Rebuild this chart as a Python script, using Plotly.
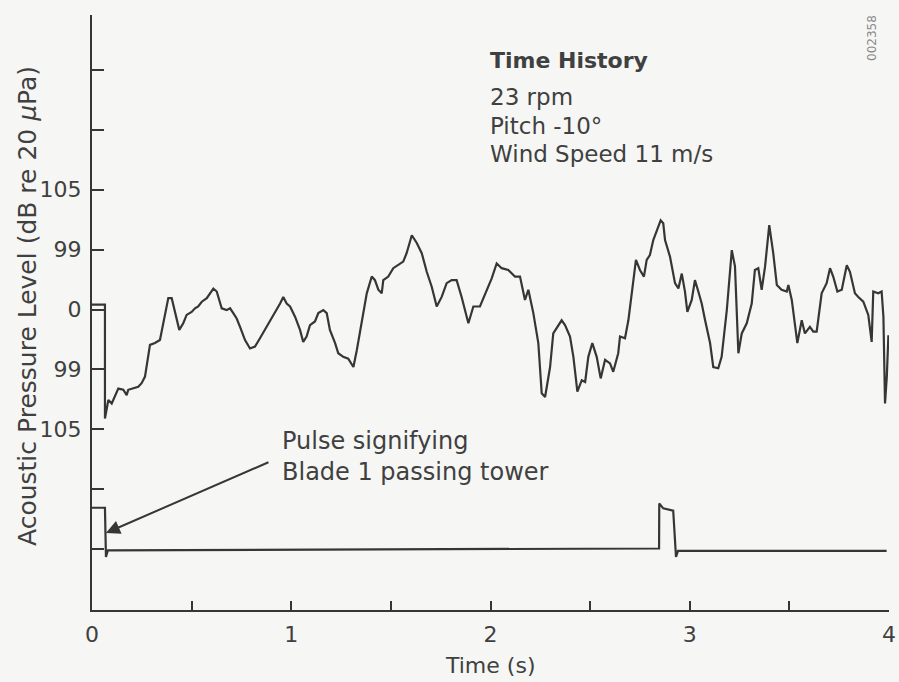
import plotly.graph_objects as go

# ---------------- data ----------------
# main acoustic pressure trace: time (s) and level (in y-tick units; 0 = centre line)
t_main = [0.000, 0.065, 0.065, 0.082, 0.099, 0.132, 0.157, 0.174, 0.182, 0.207, 0.232, 0.249, 0.266,
          0.291, 0.316, 0.341, 0.350, 0.366, 0.383, 0.400, 0.417, 0.438, 0.458, 0.475, 0.500, 0.517,
          0.533, 0.551, 0.576, 0.592, 0.609, 0.626, 0.651, 0.676, 0.693, 0.709, 0.726, 0.743, 0.768,
          0.793, 0.818, 0.843, 0.868, 0.893, 0.918, 0.944, 0.960, 0.977, 0.994, 1.019, 1.044, 1.060,
          1.077, 1.094, 1.119, 1.136, 1.161, 1.178, 1.194, 1.220, 1.236, 1.261, 1.286, 1.312, 1.329,
          1.354, 1.379, 1.404, 1.420, 1.437, 1.454, 1.462, 1.487, 1.512, 1.537, 1.562, 1.579, 1.605,
          1.630, 1.655, 1.680, 1.705, 1.730, 1.755, 1.780, 1.805, 1.830, 1.855, 1.889, 1.914, 1.947,
          1.972, 2.006, 2.031, 2.056, 2.089, 2.123, 2.148, 2.173, 2.190, 2.215, 2.240, 2.257, 2.274,
          2.299, 2.315, 2.341, 2.357, 2.374, 2.399, 2.416, 2.436, 2.458, 2.475, 2.491, 2.511, 2.533,
          2.553, 2.575, 2.600, 2.616, 2.641, 2.650, 2.675, 2.692, 2.709, 2.730, 2.750, 2.770, 2.784,
          2.800, 2.817, 2.834, 2.854, 2.867, 2.876, 2.901, 2.926, 2.943, 2.960, 2.976, 2.988, 3.010,
          3.026, 3.043, 3.060, 3.077, 3.102, 3.118, 3.143, 3.160, 3.186, 3.211, 3.227, 3.244, 3.261,
          3.286, 3.311, 3.327, 3.344, 3.361, 3.378, 3.399, 3.419, 3.437, 3.461, 3.487, 3.495, 3.512,
          3.528, 3.540, 3.562, 3.578, 3.603, 3.620, 3.637, 3.662, 3.687, 3.704, 3.720, 3.741, 3.763,
          3.788, 3.804, 3.829, 3.846, 3.871, 3.896, 3.913, 3.921, 3.946, 3.963, 3.972, 3.980, 3.989,
          3.997]
level_main = [0.08, 0.08, -1.82, -1.51, -1.57, -1.32, -1.34, -1.43, -1.34, -1.32, -1.29, -1.23, -1.12,
              -0.59, -0.56, -0.51, -0.37, -0.12, 0.19, 0.19, -0.06, -0.34, -0.23, -0.09, -0.04, 0.02,
              0.05, 0.13, 0.19, 0.27, 0.35, 0.30, 0.02, -0.01, 0.02, -0.06, -0.15, -0.29, -0.51,
              -0.65, -0.62, -0.48, -0.34, -0.20, -0.06, 0.10, 0.21, 0.10, 0.05, -0.12, -0.34, -0.54,
              -0.45, -0.26, -0.20, -0.06, -0.01, -0.06, -0.34, -0.56, -0.73, -0.79, -0.82, -0.96, -0.68,
              -0.23, 0.27, 0.55, 0.49, 0.33, 0.27, 0.49, 0.55, 0.69, 0.74, 0.80, 0.94, 1.24,
              1.11, 0.94, 0.63, 0.38, 0.05, 0.21, 0.44, 0.49, 0.49, 0.21, -0.23, 0.05, 0.05,
              0.24, 0.52, 0.77, 0.69, 0.66, 0.55, 0.55, 0.16, 0.33, -0.06, -0.56, -1.40, -1.46,
              -0.96, -0.40, -0.26, -0.18, -0.26, -0.45, -0.79, -1.37, -1.18, -1.21, -0.79, -0.56, -0.79,
              -1.15, -0.84, -0.90, -1.04, -0.73, -0.45, -0.48, -0.18, 0.27, 0.83, 0.66, 0.55, 0.83,
              0.91, 1.16, 1.30, 1.49, 1.44, 1.16, 0.88, 0.44, 0.35, 0.60, 0.30, -0.04, 0.16,
              0.49, 0.30, 0.10, -0.18, -0.56, -0.96, -0.98, -0.79, -0.01, 0.99, 0.72, -0.73, -0.40,
              -0.23, 0.10, 0.66, 0.69, 0.33, 0.72, 1.41, 0.94, 0.41, 0.33, 0.30, 0.41, 0.16,
              -0.23, -0.56, -0.18, -0.40, -0.29, -0.37, -0.37, 0.27, 0.44, 0.69, 0.55, 0.30, 0.33,
              0.74, 0.63, 0.27, 0.21, 0.13, -0.09, -0.54, 0.30, 0.27, 0.30, -0.12, -1.57, -1.12,
              -0.43]

# tower-passage pulse trace
t_pulse = [0.000, 0.065, 0.070, 0.080, 2.846, 2.847, 2.867, 2.917, 2.931, 2.941, 3.988]
level_pulse = [-3.31, -3.31, -4.13, -4.02, -3.99, -3.24, -3.32, -3.36, -4.13, -4.03, -4.03]

# axes
x_tickvals = [0, 0.5, 1, 1.5, 2, 2.5, 3, 3.5, 4]
x_ticktext = ["0", "", "1", "", "2", "", "3", "", "4"]
y_tickvals = [-4, -3, -2, -1, 0, 1, 2, 3, 4]
y_ticktext = ["", "", "105", "99", "0", "99", "105", "", ""]

info_lines = ["<b>Time History</b>", "23 rpm", "Pitch -10°", "Wind Speed 11 m/s"]
info_levels = [4.15, 3.54, 3.06, 2.59]

# ---------------- styling ----------------
INK = "#363636"
TXT = "#404040"
BG = "#f6f6f4"
FONT = "DejaVu Sans"

fig = go.Figure()
fig.add_trace(go.Scatter(x=t_main, y=level_main, mode="lines",
                         line=dict(color=INK, width=2.2), hoverinfo="skip", showlegend=False))
fig.add_trace(go.Scatter(x=t_pulse, y=level_pulse, mode="lines",
                         line=dict(color=INK, width=2.2), hoverinfo="skip", showlegend=False))

fig.update_layout(
    width=899, height=682,
    margin=dict(l=92, r=10, t=15, b=72, autoexpand=False),
    paper_bgcolor=BG, plot_bgcolor=BG,
    font=dict(family=FONT, color=TXT, size=22),
    showlegend=False,
)
fig.update_xaxes(range=[0, 4], showgrid=False, zeroline=False,
                 showline=True, linecolor=INK, linewidth=2,
                 tickmode="array", tickvals=x_tickvals, ticktext=x_ticktext,
                 ticks="inside", ticklen=9, tickwidth=1.5, tickcolor=INK,
                 tickfont=dict(family=FONT, size=22, color=TXT), ticklabelstandoff=4)
fig.update_yaxes(range=[-5.017, 4.917], showgrid=False, zeroline=False,
                 showline=True, linecolor=INK, linewidth=2,
                 tickmode="array", tickvals=y_tickvals, ticktext=y_ticktext,
                 ticks="inside", ticklen=12, tickwidth=1.5, tickcolor=INK,
                 tickfont=dict(family=FONT, size=22, color=TXT), ticklabelstandoff=4)

ann = []
for i, (line, lv) in enumerate(zip(info_lines, info_levels)):
    ann.append(dict(x=1.985, y=lv, xref="x", yref="y", text=line, showarrow=False,
                    xanchor="left", yanchor="middle",
                    font=dict(family=FONT, size=22 if i == 0 else 23, color=TXT)))
# pulse label + arrow
ann.append(dict(x=0.944, y=-2.46, xref="x", yref="y",
                text="Pulse signifying<br>Blade 1 passing tower", showarrow=False,
                xanchor="left", yanchor="middle", align="left",
                font=dict(family=FONT, size=24, color=TXT)))
ann.append(dict(x=0.070, y=-3.73, xref="x", yref="y", ax=0.893, ay=-2.54,
                axref="x", ayref="y", text="", showarrow=True,
                arrowhead=2, arrowsize=1.4, arrowwidth=2, arrowcolor=INK))
# axis titles
ann.append(dict(x=-65 / 797, y=(610 - 306) / 595, xref="paper", yref="paper",
                text="Acoustic Pressure Level (dB re 20 <i>μ</i>Pa)", textangle=-90,
                showarrow=False, xanchor="center", yanchor="middle",
                font=dict(family=FONT, size=25, color=TXT)))
ann.append(dict(x=(490 - 92) / 797, y=(610 - 665) / 595, xref="paper", yref="paper",
                text="Time (s)", showarrow=False, xanchor="center", yanchor="middle",
                font=dict(family=FONT, size=22, color=TXT)))
# figure id
ann.append(dict(x=(872 - 92) / 797, y=(610 - 38) / 595, xref="paper", yref="paper",
                text="002358", textangle=-90, showarrow=False,
                xanchor="center", yanchor="middle",
                font=dict(family=FONT, size=12, color="#8a8a8a")))
fig.update_layout(annotations=ann)

fig.write_html("out.html", config={"displayModeBar": False},
               post_script="document.body.style.margin='0';")
